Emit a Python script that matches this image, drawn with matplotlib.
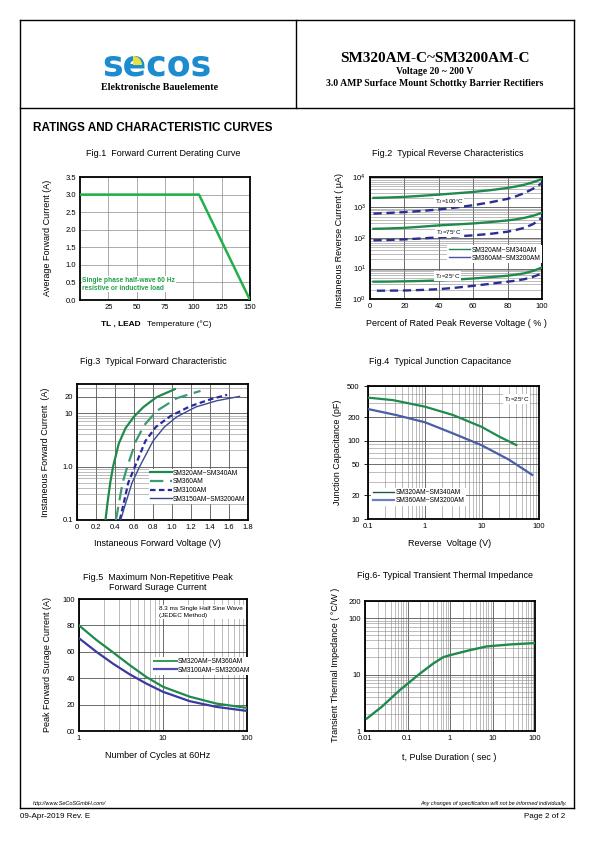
import matplotlib
matplotlib.use('Agg')
import matplotlib.pyplot as plt
from matplotlib.lines import Line2D
from matplotlib.patches import Wedge
from matplotlib.ticker import FixedLocator, NullFormatter, FixedFormatter

plt.rcParams['font.family'] = ['Liberation Sans', 'DejaVu Sans']
plt.rcParams['mathtext.default'] = 'regular'

# ---------------- data ----------------
fig1_temp = [0, 105, 150]
fig1_current = [3.0, 3.0, 0.0]

fig2_pct = [2, 10, 20, 30, 40, 50, 60, 70, 80, 85, 90, 95, 100]
fig2_pct_b25 = [4, 10, 20, 30, 40, 50, 60, 70, 80, 85, 90, 95, 100]
fig2_g100 = [2065, 2120, 2230, 2420, 2650, 2920, 3240, 3700, 4380, 4900, 5620, 6800, 8600]
fig2_b100 = [630, 660, 705, 770, 860, 1000, 1190, 1480, 1920, 2350, 3000, 4200, 6300]
fig2_g75 = [200, 205, 215, 235, 259, 278, 300, 333, 377, 410, 460, 540, 670]
fig2_b75 = [84, 86, 90, 97, 105, 113, 122, 137, 161, 185, 217, 290, 460]
fig2_g25 = [3.7, 3.72, 3.8, 3.9, 4.06, 4.35, 4.7, 5.2, 5.8, 6.3, 7.0, 8.4, 10.8]
fig2_b25 = [1.87, 1.88, 1.9, 1.98, 2.1, 2.35, 2.7, 3.15, 3.7, 4.0, 4.5, 5.4, 6.9]

fig3_v_g = [0.30, 0.32, 0.35, 0.38, 0.44, 0.51, 0.60, 0.70, 0.84, 1.03]
fig3_i_g = [0.1, 0.2, 0.5, 1.0, 2.7, 5.2, 8.6, 13, 20, 28]
fig3_v_gd = [0.41, 0.44, 0.48, 0.53, 0.62, 0.71, 0.84, 1.05, 1.30]
fig3_i_gd = [0.1, 0.2, 0.5, 1.0, 3.0, 6.0, 11, 19, 26]
fig3_v_bd = [0.45, 0.49, 0.54, 0.61, 0.72, 0.83, 0.98, 1.19, 1.40, 1.58]
fig3_i_bd = [0.1, 0.2, 0.5, 1.0, 3.0, 5.5, 8.7, 13.4, 18, 22]
fig3_v_b = [0.46, 0.51, 0.58, 0.66, 0.80, 0.92, 1.05, 1.25, 1.47, 1.71]
fig3_i_b = [0.1, 0.2, 0.5, 1.0, 3.0, 5.5, 8.5, 13, 17, 20.5]

fig4_v_g = [0.1, 0.275, 1.0, 3.1, 9.7, 20, 40]
fig4_c_g = [355, 330, 272, 213, 151, 113, 88]
fig4_v_b = [0.1, 0.31, 1.0, 3.1, 9.7, 30, 76]
fig4_c_b = [254, 213, 172, 124, 88, 57, 36.6]

fig5_n = [1, 1.61, 2.54, 4.0, 6.3, 10, 20.8, 43, 100]
fig5_g = [80, 69, 59.6, 50, 41, 33.5, 26, 20.8, 17.5]
fig5_b = [70.3, 60, 51, 43, 36, 29.7, 22.6, 18.3, 15.2]

fig6_t = [0.011, 0.0246, 0.066, 0.197, 0.405, 0.70, 1.0, 2.95, 7.3, 25.6, 100]
fig6_z = [1.66, 2.67, 5.3, 10.4, 15.7, 20.3, 22, 27, 31.4, 34, 36]

legend_a = ['SM320AM~SM340AM', 'SM360AM~SM3200AM']
legend_3 = ['SM320AM~SM340AM', 'SM360AM', 'SM3100AM', 'SM3150AM~SM3200AM']
legend_5 = ['SM320AM~SM360AM', 'SM3100AM~SM3200AM']

# ---------------- layout helpers ----------------
W, H = 595.0, 842.0
fig = plt.figure(figsize=(5.95, 8.42), dpi=100)

def T(x, y, s, **kw):
    kw.setdefault('va', 'center')
    fig.text(x / W, 1 - y / H, s, **kw)

def L(x0, y0, x1, y1, lw=1.0, c='black'):
    fig.add_artist(Line2D([x0 / W, x1 / W], [1 - y0 / H, 1 - y1 / H],
                          transform=fig.transFigure, color=c, lw=lw))

def A(x0, x1, y0, y1):
    ax = fig.add_axes([x0 / W, 1 - y1 / H, (x1 - x0) / W, (y1 - y0) / H])
    for s in ax.spines.values():
        s.set_linewidth(1.3)
    ax.tick_params(labelsize=5.5, length=0, pad=3)
    return ax

GREEN = '#1f8a4c'
NAVY = '#2a2e92'
GRID = '#8a8a8a'

# ---------------- page frame & header ----------------
L(20, 20, 574, 20); L(20, 20, 20, 808); L(574, 20, 574, 808); L(20, 808, 574, 808)
L(20, 108, 574, 108); L(296, 20, 296, 108)

logo = fig.add_axes([0, 0, 1, 1])
logo.set_xlim(0, W); logo.set_ylim(H, 0)
logo.axis('off'); logo.patch.set_visible(False)
logo.text(102, 76, 'secos', ha='left', va='baseline', fontsize=25, color='#1a8ccf',
          family='DejaVu Sans', weight='bold')
logo.add_patch(Wedge((133, 65), 9, 270, 360, facecolor='#ece040', edgecolor='none', zorder=3))

T(160, 88, 'Elektronische Bauelemente', ha='center', fontsize=7.2,
  family='Liberation Serif', weight='bold')
T(435, 58, 'SM320AM-C~SM3200AM-C', ha='center', fontsize=11,
  family='Liberation Serif', weight='bold')
T(435, 72, 'Voltage 20 ~ 200 V', ha='center', fontsize=7,
  family='Liberation Serif', weight='bold')
T(435, 84, '3.0 AMP Surface Mount Schottky Barrier Rectifiers', ha='center',
  fontsize=7, family='Liberation Serif', weight='bold')
T(33, 128, 'RATINGS AND CHARACTERISTIC CURVES', ha='left', fontsize=8.5, weight='bold')

T(33, 804, 'http://www.SeCoSGmbH.com/', ha='left', fontsize=4, style='italic')
T(567, 804, 'Any changes of specification will not be informed individually.',
  ha='right', fontsize=4, style='italic')
T(20, 817, '09-Apr-2019 Rev. E', ha='left', fontsize=5.8)
T(565, 817, 'Page 2 of 2', ha='right', fontsize=5.8)

TS = 6.5   # title size
LS = 6.5   # axis label size

# ---------------- Fig.1 ----------------
ax1 = A(80, 250, 177, 300)
ax1.plot(fig1_temp, fig1_current, color='#22b04a', lw=1.8, zorder=3)
ax1.set_xlim(0, 150); ax1.set_ylim(0, 3.5)
ax1.xaxis.set_major_locator(FixedLocator([25, 50, 75, 100, 125, 150]))
ax1.yaxis.set_major_locator(FixedLocator([0, 0.5, 1, 1.5, 2, 2.5, 3, 3.5]))
ax1.yaxis.set_major_formatter(FixedFormatter(['0.0', '0.5', '1.0', '1.5', '2.0', '2.5', '3.0', '3.5']))
ax1.grid(True, color=GRID, lw=0.5)
ax1.text(2, 0.45, 'Single phase half-wave 60 Hz\nresistive or inductive load',
         fontsize=4.8, color='#22a04a', weight='bold', va='center', ha='left',
         bbox=dict(facecolor='white', edgecolor='none', pad=0.5), zorder=4)
T(163, 153, 'Fig.1  Forward Current Derating Curve', ha='center', fontsize=TS)
T(48, 238, 'Average Forward Current (A)', ha='center', rotation=90, fontsize=LS)
T(141, 324, 'TL , LEAD', ha='right', fontsize=6, weight='bold')
T(147, 324, 'Temperature (°C)', ha='left', fontsize=6)

# ---------------- Fig.2 ----------------
ax2 = A(370, 542, 177, 299)
ax2.set_yscale('log')
ax2.set_xlim(0, 100); ax2.set_ylim(1, 1e4)
ax2.xaxis.set_major_locator(FixedLocator([0, 20, 40, 60, 80, 100]))
ax2.yaxis.set_major_locator(FixedLocator([1, 10, 100, 1000, 10000]))
ax2.yaxis.set_major_formatter(FixedFormatter(['$10^0$', '$10^1$', '$10^2$', '$10^3$', '$10^4$']))
ax2.yaxis.set_minor_locator(FixedLocator([m * 10 ** d for d in range(4) for m in range(2, 10)]))
ax2.yaxis.set_minor_formatter(NullFormatter())
ax2.tick_params(which='minor', length=0)
ax2.grid(True, which='major', color='#555555', lw=0.6)
ax2.grid(True, which='minor', axis='y', color=GRID, lw=0.4)
dash = (0, (3.5, 2))
ax2.plot(fig2_pct, fig2_g100, color=GREEN, lw=1.7, zorder=3)
ax2.plot(fig2_pct, fig2_b100, color=NAVY, lw=1.7, ls=dash, zorder=3)
ax2.plot(fig2_pct, fig2_g75, color=GREEN, lw=1.7, zorder=3)
ax2.plot(fig2_pct, fig2_b75, color=NAVY, lw=1.7, ls=dash, zorder=3)
ax2.plot(fig2_pct, fig2_g25, color=GREEN, lw=1.7, zorder=3)
ax2.plot(fig2_pct_b25, fig2_b25, color=NAVY, lw=1.7, ls=dash, zorder=3)
bb = dict(facecolor='white', edgecolor='none', pad=0.6)
ax2.text(46, 1550, 'T$_J$=100°C', fontsize=4.5, ha='center', va='center', bbox=bb, zorder=4)
ax2.text(46, 155, 'T$_J$=75°C', fontsize=4.5, ha='center', va='center', bbox=bb, zorder=4)
ax2.text(45, 5.6, 'T$_J$=25°C', fontsize=4.5, ha='center', va='center', bbox=bb, zorder=4)
leg2 = ax2.legend([Line2D([], [], color=GREEN, lw=1), Line2D([], [], color='#4a55a8', lw=1)],
                  legend_a, loc='upper left', bbox_to_anchor=(0.45, 0.44), fontsize=4.8,
                  frameon=True, fancybox=False, framealpha=1, edgecolor='none',
                  handlelength=3.2, handletextpad=0.2, borderpad=0.2, labelspacing=0.15,
                  borderaxespad=0)
leg2.set_zorder(5)
T(448, 153, 'Fig.2  Typical Reverse Characteristics', ha='center', fontsize=TS)
T(340, 240, 'Instaneous Reverse Current ( µA)', ha='center', rotation=90, fontsize=LS)
T(456, 323, 'Percent of Rated Peak Reverse Voltage ( % )', ha='center', fontsize=LS)

# ---------------- Fig.3 ----------------
ax3 = A(77, 248, 384, 520)
ax3.set_yscale('log')
ax3.set_xlim(0, 1.8); ax3.set_ylim(0.1, 35)
ax3.xaxis.set_major_locator(FixedLocator([0, 0.2, 0.4, 0.6, 0.8, 1.0, 1.2, 1.4, 1.6, 1.8]))
ax3.xaxis.set_major_formatter(FixedFormatter(['0', '0.2', '0.4', '0.6', '0.8', '1.0', '1.2', '1.4', '1.6', '1.8']))
ax3.yaxis.set_major_locator(FixedLocator([0.1, 1, 10, 20]))
ax3.yaxis.set_major_formatter(FixedFormatter(['0.1', '1.0', '10', '20']))
ax3.yaxis.set_minor_locator(FixedLocator([m * 0.1 for m in range(2, 10)] + [m * 1.0 for m in range(2, 10)] + [30]))
ax3.yaxis.set_minor_formatter(NullFormatter())
ax3.tick_params(which='minor', length=0)
ax3.grid(True, which='major', color='#555555', lw=0.6)
ax3.grid(True, which='minor', axis='y', color=GRID, lw=0.4)
h1, = ax3.plot(fig3_v_g, fig3_i_g, color=GREEN, lw=1.6, zorder=3)
h2, = ax3.plot(fig3_v_gd, fig3_i_gd, color='#3a9a72', lw=1.6, ls=(0, (6, 3)), zorder=3)
h3, = ax3.plot(fig3_v_bd, fig3_i_bd, color='#2a2aa0', lw=1.6, ls=(0, (2.5, 1.5)), zorder=3)
h4, = ax3.plot(fig3_v_b, fig3_i_b, color='#3a4a90', lw=1.0, zorder=3)
leg3 = ax3.legend([h1, h2, h3, h4], legend_3, loc='lower left', bbox_to_anchor=(0.42, 0.12),
                  fontsize=4.8, frameon=True, fancybox=False, framealpha=1, edgecolor='none',
                  handlelength=3.4, handletextpad=0.1, borderpad=0.15, labelspacing=0.25,
                  borderaxespad=0)
leg3.set_zorder(5)
T(153, 361, 'Fig.3  Typical Forward Characteristic', ha='center', fontsize=TS)
T(45, 452, 'Instaneous Forward Current  (A)', ha='center', rotation=90, fontsize=LS)
T(157, 544, 'Instaneous Forward Voltage (V)', ha='center', fontsize=LS)

# ---------------- Fig.4 ----------------
ax4 = A(368, 539, 386, 519)
ax4.set_xscale('log'); ax4.set_yscale('log')
ax4.set_xlim(0.1, 100); ax4.set_ylim(10, 500)
ax4.xaxis.set_major_locator(FixedLocator([0.1, 1, 10, 100]))
ax4.xaxis.set_major_formatter(FixedFormatter(['0.1', '1', '10', '100']))
ax4.xaxis.set_minor_locator(FixedLocator([m * 10.0 ** d for d in (-1, 0, 1) for m in range(2, 10)]))
ax4.xaxis.set_minor_formatter(NullFormatter())
ax4.yaxis.set_major_locator(FixedLocator([10, 20, 50, 100, 200, 500]))
ax4.yaxis.set_major_formatter(FixedFormatter(['10', '20', '50', '100', '200', '500']))
ax4.yaxis.set_minor_locator(FixedLocator([30, 40, 60, 70, 80, 90, 300, 400]))
ax4.yaxis.set_minor_formatter(NullFormatter())
ax4.tick_params(which='minor', length=0)
ax4.tick_params(axis='y', which='major', length=3, width=0.6)
ax4.grid(True, which='major', color='#555555', lw=0.6)
ax4.grid(True, which='minor', color=GRID, lw=0.4)
g4, = ax4.plot(fig4_v_g, fig4_c_g, color=GREEN, lw=1.6, zorder=3)
b4, = ax4.plot(fig4_v_b, fig4_c_b, color='#4a5ea6', lw=1.6, zorder=3)
ax4.text(40, 340, 'T$_J$=25°C', fontsize=4.5, ha='center', va='center', bbox=bb, zorder=4)
leg4 = ax4.legend([Line2D([], [], color='#1f5a3a', lw=1), Line2D([], [], color='#6a80c0', lw=1.6)],
                  legend_a, loc='lower left', bbox_to_anchor=(0.02, 0.1), fontsize=4.8,
                  frameon=True, fancybox=False, framealpha=1, edgecolor='none',
                  handlelength=3.2, handletextpad=0.2, borderpad=0.2, labelspacing=0.2,
                  borderaxespad=0)
leg4.set_zorder(5)
T(440, 361, 'Fig.4  Typical Junction Capacitance', ha='center', fontsize=TS)
T(338, 452, 'Junction Capacitance (pF)', ha='center', rotation=90, fontsize=LS)
T(450, 544, 'Reverse  Voltage (V)', ha='center', fontsize=LS)

# ---------------- Fig.5 ----------------
ax5 = A(79, 247, 599, 731)
ax5.set_xscale('log')
ax5.set_xlim(1, 100); ax5.set_ylim(0, 100)
ax5.xaxis.set_major_locator(FixedLocator([1, 10, 100]))
ax5.xaxis.set_major_formatter(FixedFormatter(['1', '10', '100']))
ax5.xaxis.set_minor_locator(FixedLocator([m * 10.0 ** d for d in (0, 1) for m in range(2, 10)]))
ax5.xaxis.set_minor_formatter(NullFormatter())
ax5.yaxis.set_major_locator(FixedLocator([0, 20, 40, 60, 80, 100]))
ax5.yaxis.set_major_formatter(FixedFormatter(['00', '20', '40', '60', '80', '100']))
ax5.tick_params(which='minor', length=0)
ax5.grid(True, which='major', color='#555555', lw=0.6)
ax5.grid(True, which='minor', axis='x', color=GRID, lw=0.4)
g5, = ax5.plot(fig5_n, fig5_g, color=GREEN, lw=1.6, zorder=3)
b5, = ax5.plot(fig5_n, fig5_b, color='#3a3aa0', lw=1.6, zorder=3)
ax5.text(9.0, 90, '8.3 ms Single Half Sine Wave\n(JEDEC Method)', fontsize=4.6,
         ha='left', va='center', bbox=dict(facecolor='white', edgecolor='none', pad=0.8),
         linespacing=1.6, zorder=4)
leg5 = ax5.legend([Line2D([], [], color='#2f9a5a', lw=1.4), Line2D([], [], color='#5050b0', lw=1.6)],
                  legend_5, loc='upper left', bbox_to_anchor=(0.44, 0.56), fontsize=4.8,
                  frameon=True, fancybox=False, framealpha=1, edgecolor='none',
                  handlelength=3.4, handletextpad=0.1, borderpad=0.2, labelspacing=0.2,
                  borderaxespad=0)
leg5.set_zorder(5)
T(158, 577, 'Fig.5  Maximum Non-Repetitive Peak', ha='center', fontsize=TS)
T(158, 587, 'Forward Surage Current', ha='center', fontsize=TS)
T(48, 665, 'Peak Forward Surage Current (A)', ha='center', rotation=90, fontsize=LS)
T(158, 756, 'Number of Cycles at 60Hz', ha='center', fontsize=LS)

# ---------------- Fig.6 ----------------
ax6 = A(365, 535, 601, 731)
ax6.set_xscale('log'); ax6.set_yscale('log')
ax6.set_xlim(0.01, 100); ax6.set_ylim(1, 200)
ax6.xaxis.set_major_locator(FixedLocator([0.01, 0.1, 1, 10, 100]))
ax6.xaxis.set_major_formatter(FixedFormatter(['0.01', '0.1', '1', '10', '100']))
ax6.xaxis.set_minor_locator(FixedLocator([m * 10.0 ** d for d in (-2, -1, 0, 1) for m in range(2, 10)]))
ax6.xaxis.set_minor_formatter(NullFormatter())
ax6.yaxis.set_major_locator(FixedLocator([1, 10, 100, 200]))
ax6.yaxis.set_major_formatter(FixedFormatter(['1', '10', '100', '200']))
ax6.yaxis.set_minor_locator(FixedLocator([m * 10.0 ** d for d in (0, 1) for m in range(2, 10)]))
ax6.yaxis.set_minor_formatter(NullFormatter())
ax6.tick_params(which='minor', length=0)
ax6.grid(True, which='major', color='#555555', lw=0.6)
ax6.grid(True, which='minor', color=GRID, lw=0.4)
ax6.plot(fig6_t, fig6_z, color=GREEN, lw=1.7, zorder=3)
T(445, 576, 'Fig.6- Typical Transient Thermal Impedance', ha='center', fontsize=TS)
T(336, 665, 'Transient Thermal Impedance ( °C/W )', ha='center', rotation=90, fontsize=LS)
T(449, 757, 't, Pulse Duration ( sec )', ha='center', fontsize=LS)

fig.savefig('out.png', dpi=100)
